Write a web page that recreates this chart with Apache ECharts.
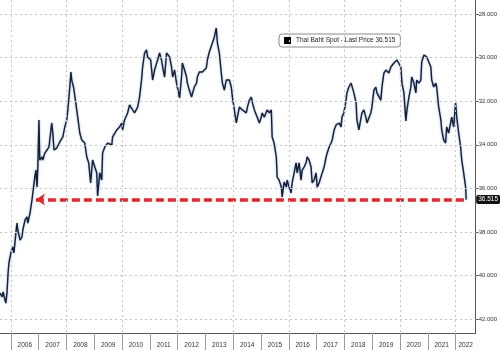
<!DOCTYPE html>
<html><head><meta charset="utf-8">
<script src="https://cdn.jsdelivr.net/npm/echarts@6/dist/echarts.min.js"></script>
<style>html,body{margin:0;padding:0;background:#fff}#c{width:500px;height:350px}</style>
</head><body><div id="c"></div>
<script>
const dates=[2005.61,2005.68,2005.72,2005.79,2005.82,2005.86,2005.90,2005.93,2006.00,2006.07,
2006.11,2006.18,2006.22,2006.25,2006.33,2006.40,2006.43,2006.51,2006.58,2006.61,
2006.69,2006.76,2006.79,2006.86,2006.90,2006.94,2006.97,2007.01,2007.04,2007.12,
2007.15,2007.22,2007.30,2007.37,2007.47,2007.51,2007.55,2007.65,2007.76,2007.87,
2007.94,2008.01,2008.05,2008.12,2008.16,2008.19,2008.26,2008.37,2008.48,2008.55,
2008.66,2008.73,2008.80,2008.87,2008.94,2009.02,2009.09,2009.12,2009.20,2009.27,
2009.30,2009.38,2009.48,2009.63,2009.66,2009.81,2009.91,2009.99,2010.02,2010.09,
2010.20,2010.27,2010.38,2010.45,2010.56,2010.63,2010.70,2010.74,2010.81,2010.88,
2010.92,2011.03,2011.10,2011.17,2011.28,2011.35,2011.42,2011.46,2011.53,2011.60,
2011.64,2011.71,2011.78,2011.82,2011.89,2011.96,2011.99,2012.07,2012.14,2012.17,
2012.25,2012.32,2012.35,2012.42,2012.50,2012.53,2012.60,2012.68,2012.71,2012.78,
2012.89,2013.03,2013.07,2013.14,2013.21,2013.25,2013.32,2013.39,2013.43,2013.50,
2013.57,2013.61,2013.68,2013.75,2013.86,2013.93,2013.97,2014.04,2014.11,2014.15,
2014.22,2014.33,2014.47,2014.51,2014.58,2014.65,2014.69,2014.76,2014.86,2014.94,
2015.01,2015.04,2015.12,2015.22,2015.30,2015.37,2015.40,2015.47,2015.55,2015.58,
2015.65,2015.73,2015.76,2015.83,2015.91,2015.94,2016.01,2016.08,2016.12,2016.19,
2016.26,2016.30,2016.37,2016.44,2016.48,2016.55,2016.62,2016.66,2016.73,2016.80,
2016.84,2016.91,2016.98,2017.02,2017.09,2017.20,2017.27,2017.34,2017.38,2017.45,
2017.52,2017.56,2017.63,2017.70,2017.73,2017.81,2017.88,2017.91,2017.98,2018.06,
2018.09,2018.16,2018.24,2018.27,2018.34,2018.42,2018.45,2018.52,2018.59,2018.63,
2018.70,2018.77,2018.81,2018.88,2018.95,2018.99,2019.06,2019.13,2019.17,2019.24,
2019.31,2019.35,2019.42,2019.49,2019.60,2019.67,2019.78,2019.89,2019.96,2020.03,
2020.07,2020.14,2020.21,2020.25,2020.32,2020.39,2020.42,2020.50,2020.57,2020.60,
2020.68,2020.75,2020.78,2020.86,2020.93,2020.96,2021.03,2021.11,2021.14,2021.21,
2021.29,2021.32,2021.39,2021.47,2021.50,2021.57,2021.64,2021.68,2021.75,2021.82,
2021.86,2021.93,2022.00,2022.04,2022.11,2022.18,2022.22,2022.29,2022.36,2022.38];
const values=[40.80,40.98,40.75,41.12,41.26,40.80,39.88,39.42,38.96,38.69,
38.96,38.05,37.59,37.91,38.37,38.23,37.91,37.45,37.31,37.59,
37.13,36.53,36.21,35.48,35.16,35.94,35.02,32.86,34.70,34.56,
34.70,34.38,34.24,34.10,33.00,33.46,34.24,34.15,33.87,33.64,
33.18,32.86,32.40,31.35,30.66,31.03,31.39,32.40,33.46,33.78,
33.92,34.56,34.83,35.75,34.70,35.02,35.29,36.35,35.29,35.62,
34.38,34.10,33.92,34.01,33.64,33.32,33.18,33.00,33.32,32.86,
32.54,32.17,32.40,32.54,32.27,31.81,31.03,30.43,29.79,29.65,
29.97,30.11,31.03,30.57,30.11,29.79,30.11,30.43,30.89,29.79,
29.74,29.97,30.43,30.89,30.57,31.17,31.35,31.85,30.89,30.25,
30.57,30.89,31.17,31.49,31.81,31.72,31.35,31.17,30.89,30.66,
30.66,30.48,30.11,29.74,29.79,29.33,29.06,28.64,29.33,29.79,
30.71,31.17,31.49,31.03,31.03,31.35,31.81,32.40,33.00,32.73,
32.27,32.40,32.54,32.27,31.95,31.81,32.08,32.40,32.73,33.00,
32.73,32.54,32.73,32.40,32.54,32.40,33.64,33.92,34.56,35.48,
35.62,35.94,36.39,35.71,35.94,35.62,35.94,36.21,35.75,35.29,
34.83,35.29,34.83,35.62,35.16,35.02,34.83,34.56,34.70,35.02,
35.75,35.62,35.29,35.94,35.75,35.29,35.02,34.56,34.38,34.10,
33.92,33.78,33.32,33.09,33.18,33.00,33.18,32.73,32.54,31.95,
31.62,31.35,31.17,31.17,31.62,32.08,32.86,33.32,33.41,32.54,
32.40,32.73,33.00,33.00,32.54,32.27,31.49,31.35,31.62,31.62,
31.95,31.35,30.71,30.57,30.71,30.43,30.25,30.11,30.02,30.43,
31.17,31.62,32.91,32.40,31.81,31.35,30.89,31.17,31.62,31.03,
31.17,31.03,30.20,29.88,29.79,29.97,29.97,30.43,31.03,31.35,
31.17,31.35,32.27,32.86,33.32,33.78,33.92,33.18,33.46,33.00,
32.73,33.18,32.08,32.73,33.46,34.10,34.70,35.29,35.94,36.515];
const yTicks=[28,30,32,34,36,38,40,42];
const years=[2006,2007,2008,2009,2010,2011,2012,2013,2014,2015,2016,2017,2018,2019,2020,2021,2022];
const gridYears=[2006,2008,2010,2012,2014,2016,2018,2020,2022];
const seriesName='Thai Baht Spot - Last Price 36.515';
const lastPrice=36.515;
const arrowStart=2006.90;
const xMin=2005.609, xMax=2022.721;
const yMin=27.358, yMax=42.634;

const lastDate=dates[dates.length-1];
const yearLabelPos=years.map(y=>Math.min(y+0.5,(y+xMax)/2));
const seriesData=dates.map((d,i)=>[d,values[i]]);
const font='"Liberation Sans", Arial, sans-serif';

const chart=echarts.init(document.getElementById('c'),null,{renderer:'canvas',devicePixelRatio:1});
chart.setOption({
  animation:false,
  backgroundColor:'#fff',
  grid:{left:0,right:23,top:0,bottom:17,containLabel:false},
  legend:{
    data:[{name:seriesName,icon:'rect',itemStyle:{color:'#000',borderWidth:0}}],
    left:279,top:34,itemWidth:7,itemHeight:7,itemGap:4,
    padding:[3,5],borderColor:'#8a8a8a',borderWidth:1,borderRadius:3,backgroundColor:'#fff',
    textStyle:{fontSize:6.5,color:'#222',fontFamily:font}
  },
  xAxis:{
    type:'value',min:xMin,max:xMax,
    axisLine:{show:true,lineStyle:{color:'#555',width:1}},
    axisTick:{show:true,customValues:years,length:17,lineStyle:{color:'#999'}},
    axisLabel:{show:true,customValues:yearLabelPos,formatter:v=>String(Math.floor(v+1e-6)),
      fontSize:6.5,color:'#333',margin:9,fontFamily:font},
    splitLine:{show:false}
  },
  yAxis:{
    type:'value',position:'right',inverse:true,min:yMin,max:yMax,
    axisLine:{show:true,lineStyle:{color:'#555',width:1}},
    axisTick:{show:true,customValues:yTicks,length:3,lineStyle:{color:'#555'}},
    axisLabel:{show:true,customValues:yTicks,formatter:v=>v.toFixed(3),
      fontSize:6,color:'#333',margin:3,fontFamily:font},
    splitLine:{show:false}
  },
  series:[
    {
      name:'grid',type:'line',data:[],silent:true,z:1,
      markLine:{silent:true,symbol:['none','none'],label:{show:false},
        lineStyle:{type:[2,3],color:'#c4c4c4',width:1},
        data:gridYears.map(v=>({xAxis:v})).concat(yTicks.map(v=>({yAxis:v})))}
    },
    {
      name:seriesName,type:'line',data:seriesData,showSymbol:false,symbol:'none',z:3,
      lineStyle:{color:'#141f38',width:1.4,shadowColor:'rgba(80,120,185,0.7)',shadowBlur:2},
      itemStyle:{color:'#000'},
      markLine:{silent:true,z:4,symbol:['arrow','none'],symbolSize:[9,9],
        lineStyle:{color:'#e0282b',width:3.5,type:[8,4]},
        label:{show:true,position:'end',distance:10,formatter:()=>lastPrice.toFixed(3),
          backgroundColor:'#111',color:'#fff',padding:[1,2],fontSize:6.5,borderRadius:2,fontFamily:font},
        data:[[{coord:[arrowStart,lastPrice]},{coord:[lastDate,lastPrice]}]]}
    }
  ]
});
</script></body></html>
